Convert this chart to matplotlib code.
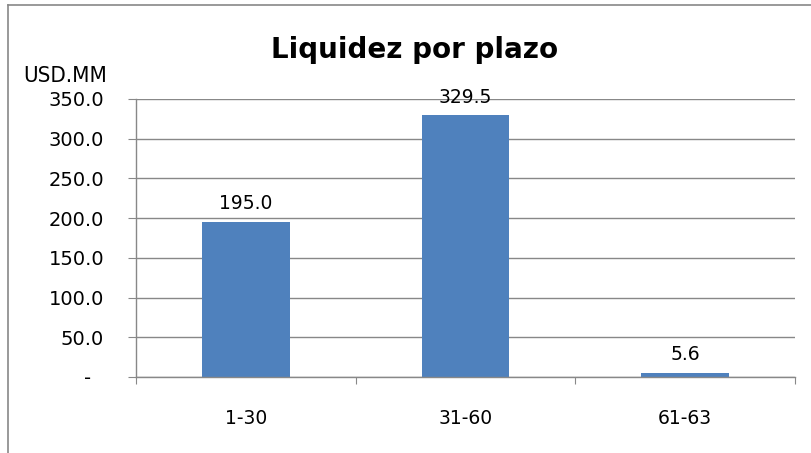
import matplotlib
matplotlib.use("Agg")
import matplotlib.pyplot as plt
from matplotlib.lines import Line2D

categories = ["1-30", "31-60", "61-63"]
values = [195.0, 329.5, 5.6]
yticks = [0, 50, 100, 150, 200, 250, 300, 350]
ytick_labels = ["-  ", "50.0", "100.0", "150.0", "200.0", "250.0", "300.0", "350.0"]

W, H = 811, 453
fig = plt.figure(figsize=(W / 100, H / 100), dpi=100)
ax = fig.add_axes([136 / W, 1 - 377 / H, (795 - 136) / W, (377 - 99) / H])

x = list(range(len(categories)))
ax.bar(x, values, width=0.4, color="#4F81BD", zorder=3)
ax.set_xlim(-0.5, 2.5)
ax.set_ylim(0, 350)

ax.set_yticks(yticks)
ax.set_yticklabels(ytick_labels, fontsize=14)
ax.set_xticks([-0.5, 0.5, 1.5, 2.5])
ax.set_xticklabels([])
ax.set_xticks(x, minor=True)
ax.set_xticklabels(categories, minor=True, fontsize=13.5)
ax.tick_params(axis="x", which="major", length=5, color="#888888", direction="out")
ax.tick_params(axis="x", which="minor", length=0, pad=23)
ax.tick_params(axis="y", length=6, color="#888888", pad=17)

ax.grid(axis="y", color="#888888", linewidth=1, zorder=0)
for s in ["top", "right"]:
    ax.spines[s].set_visible(False)
for s in ["left", "bottom"]:
    ax.spines[s].set_color("#888888")
    ax.spines[s].set_linewidth(1)
    ax.spines[s].set_zorder(4)

for xi, v in zip(x, values):
    ax.text(xi, v + 11, f"{v:.1f}", ha="center", va="bottom", fontsize=13.5)

fig.text(415 / W, 1 - 50 / H, "Liquidez por plazo", ha="center", va="center",
         fontsize=20, fontweight="bold")
fig.text(65 / W, 1 - 76 / H, "USD.MM", ha="center", va="center", fontsize=16,
         family="DejaVu Sans", stretch="condensed")

fig.add_artist(Line2D([8 / W, 1], [1 - 5 / H, 1 - 5 / H], color="#888888", linewidth=1.2))
fig.add_artist(Line2D([8 / W, 8 / W], [0, 1 - 5 / H], color="#888888", linewidth=1.2))

fig.savefig("out.png", dpi=100)
